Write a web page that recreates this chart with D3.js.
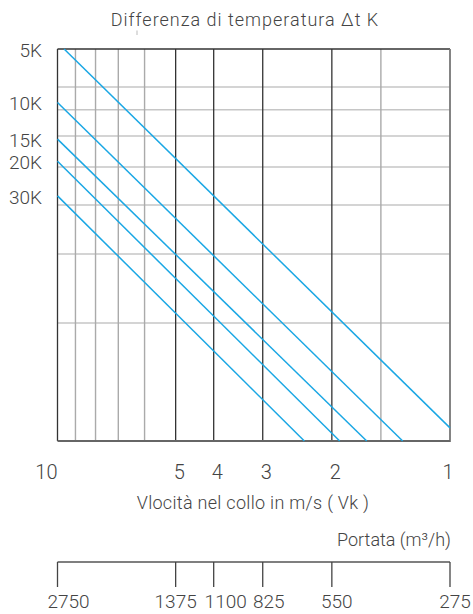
<!DOCTYPE html>
<html>
<head>
<meta charset="utf-8">
<script src="https://cdn.jsdelivr.net/npm/d3@7"></script>
<style>
  html, body { margin: 0; padding: 0; background: #fff; }
  svg { display: block; }
  text { font-family: Roboto, "Noto Sans", sans-serif; font-weight: 300; fill: #444; }
</style>
</head>
<body>
<div id="chart"></div>
<script>
// ---- Data ----
const chartTitle = "Differenza di temperatura \u0394t K";
const xAxisTitle = "Vlocità nel collo in m/s ( Vk )";
const flowAxisTitle = "Portata (m³/h)";

// velocity axis (log, reversed)
const velocityTicks = [10, 5, 4, 3, 2, 1];
const velocityMajorGrid = [5, 4, 3, 2];
const velocityMinorGrid = [9, 8, 7, 6, 1.5];
// vertical (unlabelled) log grid
const yGrid = [8, 7, 6, 5, 4, 3, 2];

// flow-rate axis
const flowTicks = [2750, 1375, 1100, 825, 550, 275];

// temperature difference lines (start / end points)
const lineLabels = ["5K", "10K", "15K", "20K", "30K"];
const lineStartV = [9.62, 10, 10, 10, 10];
const lineStartY = [10, 7.30, 5.89, 5.17, 4.22];
const lineEndV   = [1, 1.32, 1.63, 1.91, 2.35];
const lineEndY   = [1.08, 1, 1, 1, 1];

// ---- Layout ----
const W = 473, H = 614;
const L = 57.5, R = 450, T = 49, B = 441;

const svg = d3.select("#chart").append("svg").attr("width", W).attr("height", H);

const x = d3.scaleLog().domain([10, 1]).range([L, R]);
const y = d3.scaleLog().domain([10, 1]).range([T, B]);
const xf = d3.scaleLog().domain([2750, 275]).range([L, R]);

// title
svg.append("text").attr("x", 245).attr("y", 26).attr("text-anchor", "middle")
  .style("font-size", "18px").style("letter-spacing", "1px").text(chartTitle);
svg.append("line").attr("x1", 137).attr("x2", 137).attr("y1", 30.5).attr("y2", 35)
  .attr("stroke", "#bbb").attr("stroke-width", 1);

// horizontal grid
svg.append("g").selectAll("line").data(yGrid).join("line")
  .attr("x1", L).attr("x2", R).attr("y1", d => y(d)).attr("y2", d => y(d))
  .attr("stroke", "#c6c6c6").attr("stroke-width", 1.6);

// vertical minor grid
svg.append("g").selectAll("line").data(velocityMinorGrid).join("line")
  .attr("x1", d => x(d)).attr("x2", d => x(d)).attr("y1", T).attr("y2", B)
  .attr("stroke", "#aaa").attr("stroke-width", 1.4);

// vertical major grid
svg.append("g").selectAll("line").data(velocityMajorGrid).join("line")
  .attr("x1", d => x(d)).attr("x2", d => x(d)).attr("y1", T).attr("y2", B)
  .attr("stroke", "#333").attr("stroke-width", 1.3);

// border
svg.append("line").attr("x1", L).attr("x2", R).attr("y1", T).attr("y2", T).attr("stroke", "#333").attr("stroke-width", 1.3);
svg.append("line").attr("x1", L).attr("x2", L).attr("y1", T).attr("y2", B).attr("stroke", "#333").attr("stroke-width", 1.3);
svg.append("line").attr("x1", R).attr("x2", R).attr("y1", T).attr("y2", B + 1).attr("stroke", "#777").attr("stroke-width", 1.8);
svg.append("line").attr("x1", L).attr("x2", R).attr("y1", B).attr("y2", B).attr("stroke", "#666").attr("stroke-width", 1.8);

// temperature lines
const lines = lineLabels.map((k, i) => ({
  label: k,
  p: [[lineStartV[i], lineStartY[i]], [lineEndV[i], lineEndY[i]]]
}));
const lineGen = d3.line().x(d => x(d[0])).y(d => y(d[1]));
svg.append("g").selectAll("path").data(lines).join("path")
  .attr("d", d => lineGen(d.p))
  .attr("fill", "none").attr("stroke", "#1aa7e4").attr("stroke-width", 1.5);

// line labels
svg.append("g").selectAll("text").data(lines).join("text")
  .attr("x", 42).attr("y", d => y(d.p[0][1]) + 1)
  .attr("dy", "0.35em").attr("text-anchor", "end")
  .style("font-size", "19px").text(d => d.label);

// velocity tick labels
svg.append("g").selectAll("text").data(velocityTicks).join("text")
  .attr("x", d => d === 10 ? x(d) : x(d) - 2)
  .attr("y", 479)
  .attr("text-anchor", d => d === 10 ? "end" : (d === 1 ? "middle" : "start"))
  .style("font-size", "20px").text(d => d);

svg.append("text").attr("x", 253).attr("y", 509).attr("text-anchor", "middle")
  .style("font-size", "18px").style("letter-spacing", "0.3px").text(xAxisTitle);

svg.append("text").attr("x", 451).attr("y", 546).attr("text-anchor", "end")
  .style("font-size", "18px").text(flowAxisTitle);

// flow axis
const flowOffset = d => d === 2750 ? 11 : d === 1375 ? 0 : d === 1100 ? 12 : d === 825 ? 6 : 5;
const fa = svg.append("g");
fa.append("line").attr("x1", L).attr("x2", R).attr("y1", 562).attr("y2", 562)
  .attr("stroke", "#555").attr("stroke-width", 1.3);
fa.selectAll("line.t").data(flowTicks).join("line").attr("class", "t")
  .attr("x1", d => xf(d)).attr("x2", d => xf(d)).attr("y1", 562).attr("y2", 587)
  .attr("stroke", "#444").attr("stroke-width", 1.3);
fa.selectAll("text").data(flowTicks).join("text")
  .attr("x", d => xf(d) + flowOffset(d))
  .attr("y", 608).attr("text-anchor", "middle")
  .style("font-size", "19px").text(d => d);
</script>
</body>
</html>
